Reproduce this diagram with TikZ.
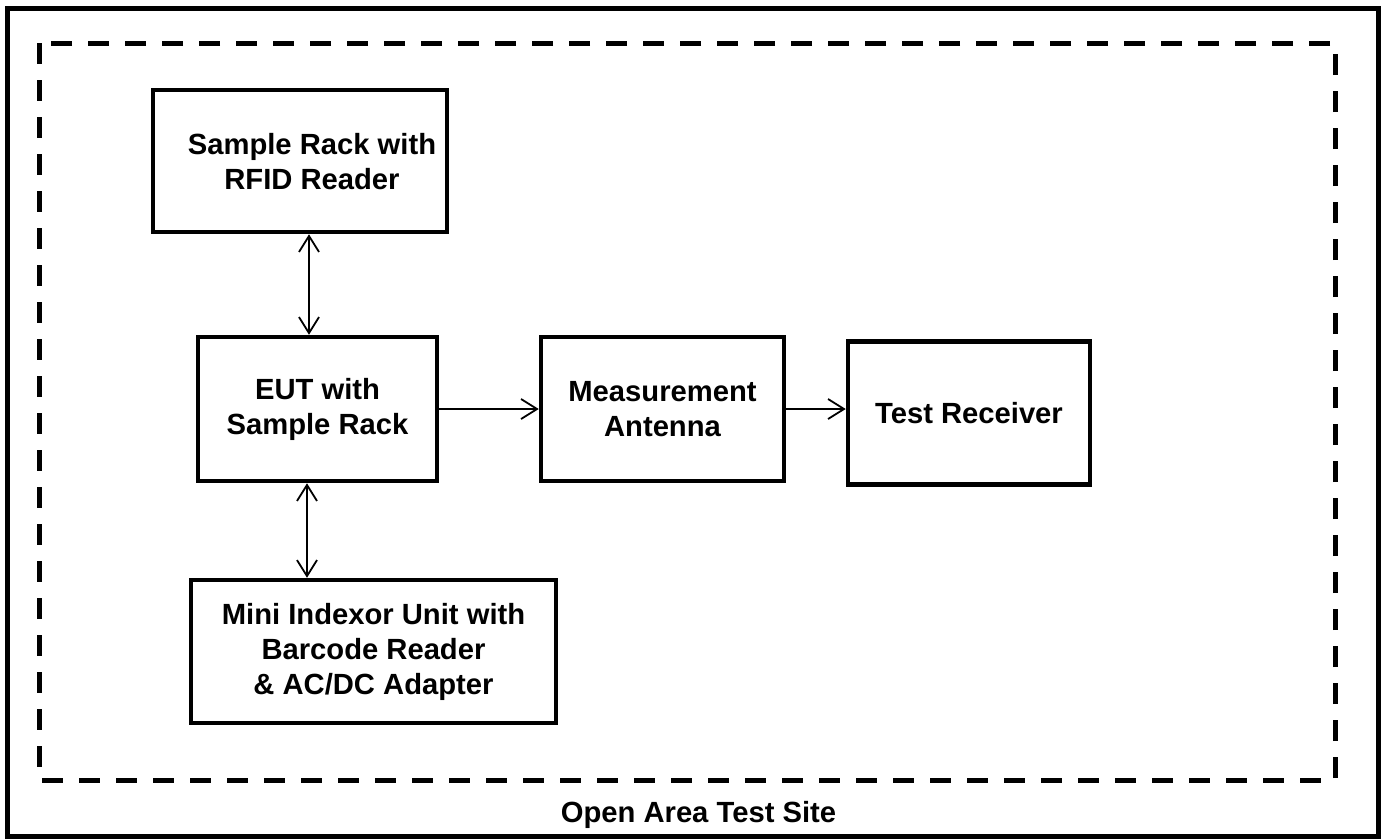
\documentclass[tikz,border=0pt]{standalone}
\usepackage{fontspec}
\setmainfont{Liberation Sans}
\usetikzlibrary{arrows.meta}
\begin{document}
\begin{tikzpicture}[x=1pt,y=-1pt,
  blk/.style={draw,line width=4.5pt,inner sep=0pt,align=center,
    font=\fontsize{29.2}{35}\selectfont\bfseries},
  conn/.style={line width=1.8pt,-{Straight Barb[length=16pt,width=20pt]}},
  bconn/.style={line width=1.8pt,{Straight Barb[length=16pt,width=20pt]}-{Straight Barb[length=16pt,width=20pt]}}]
\useasboundingbox (0,0) rectangle (1387,839);
\draw[line width=5pt] (7,8) rectangle (1378,836);
\draw[line width=5pt,dash pattern=on 21pt off 16pt,line join=round]
  (39,43) -- (39,780) -- (1335,780) -- (1335,43) -- cycle;
\node[blk,minimum width=294pt,minimum height=142pt] (sample) at (300,161) {};
\node[font=\fontsize{29.2}{35}\selectfont\bfseries,align=center,inner sep=0pt] (sampletxt) at (312,162) {Sample Rack with\\RFID Reader};
\node[blk,minimum width=239pt,minimum height=144pt] (eut) at (317.5,409) {EUT with\\Sample Rack};
\node[blk,minimum width=243pt,minimum height=144pt] (ant) at (662.5,409) {Measurement\\Antenna};
\node[blk,minimum width=242pt,minimum height=143pt] (rec) at (969,413) {Test Receiver};
\node[blk,minimum width=365pt,minimum height=143pt] (mini) at (373.5,651.5) {Mini Indexor Unit with\\Barcode Reader\\\& AC/DC Adapter};
\node[font=\fontsize{29.2}{35}\selectfont\bfseries,anchor=base] (site) at (698.5,822) {Open Area Test Site};
\draw[bconn] (sample.south -| 309,0) -- (eut.north -| 309,0);
\draw[bconn] (eut.south -| 307,0) -- (mini.north -| 307,0);
\draw[conn] (eut.east) -- (ant.west);
\draw[conn] (ant.east) -- (ant.east -| rec.west);
\end{tikzpicture}
\end{document}
